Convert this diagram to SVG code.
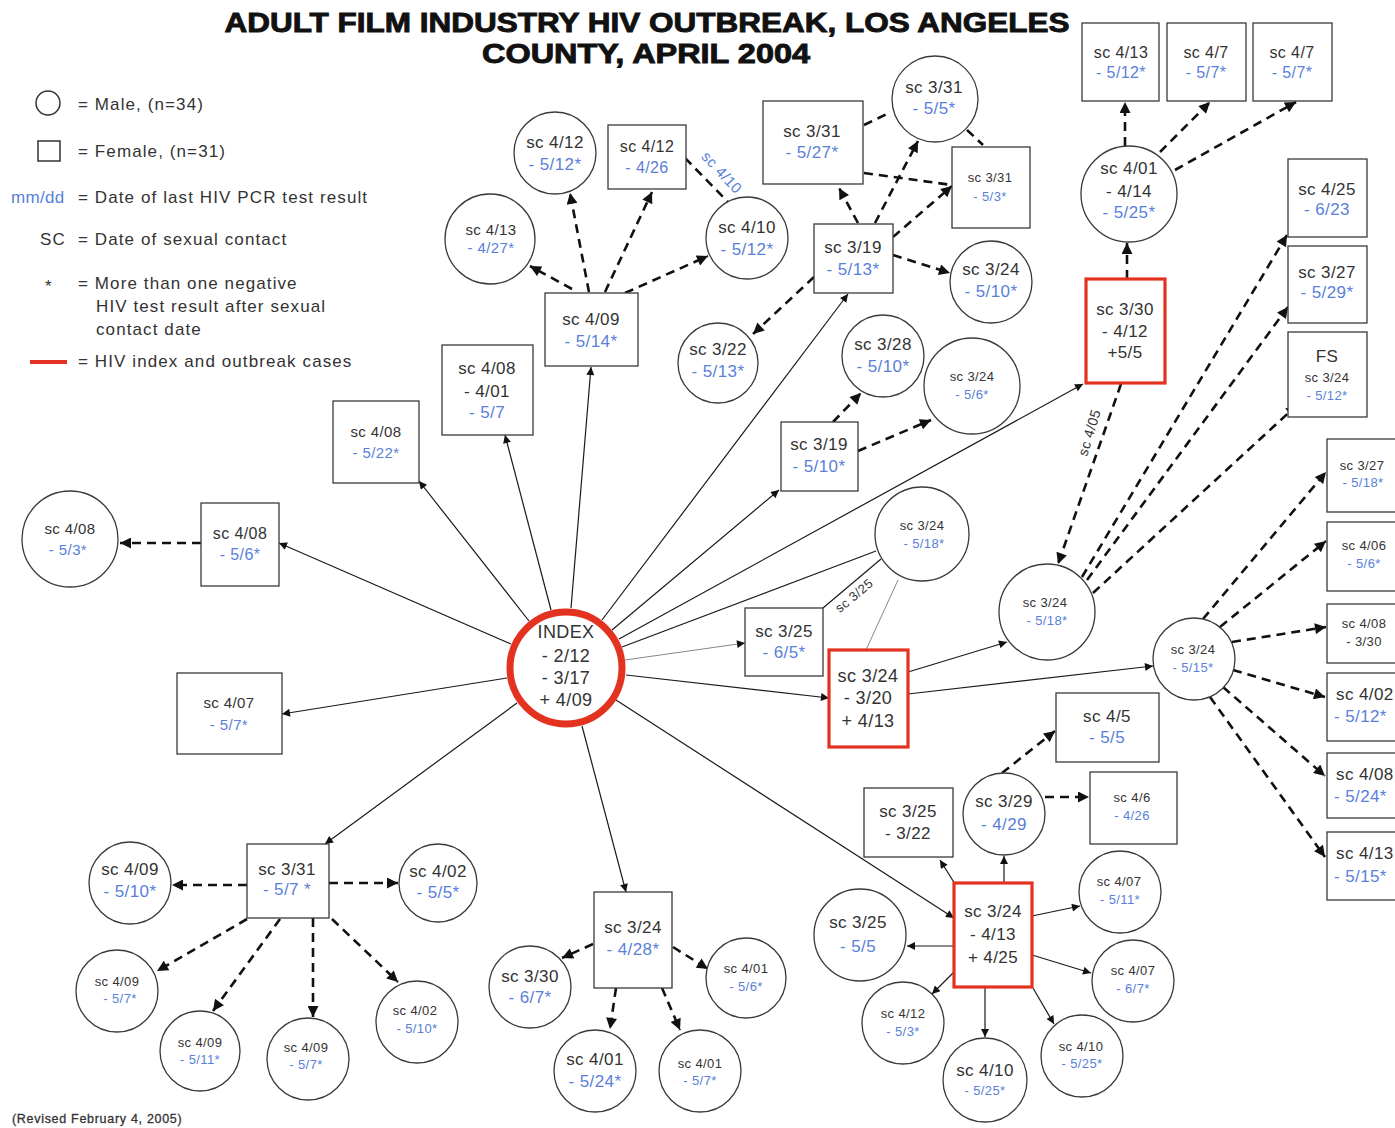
<svg xmlns="http://www.w3.org/2000/svg" width="1395" height="1128" viewBox="0 0 1395 1128">
<style>
.n{fill:#fff;stroke:#3a3a3a;stroke-width:1.3}
.r{fill:#fff;stroke:#e3321f;stroke-width:3.2}
.t{font-family:"Liberation Sans",Arial,sans-serif;fill:#333;text-anchor:middle;letter-spacing:0.4px}
.st{text-anchor:start}
.lg{font-family:"Liberation Sans",Arial,sans-serif;fill:#333;font-size:17px;letter-spacing:1.1px}
.b{fill:#5a7fd9}
.L{font-size:17px}
.M{font-size:15px}
.S{font-size:13px}
.s{stroke:#1a1a1a;stroke-width:1.2;fill:none}
.g{stroke:#888;stroke-width:1;fill:none}
.d{stroke:#111;stroke-width:2.6;stroke-dasharray:9 6;fill:none}
</style>
<defs>
<marker id="a" viewBox="0 0 10 10" refX="10" refY="5" markerWidth="11" markerHeight="8" markerUnits="userSpaceOnUse" orient="auto"><path d="M0,0 L10,5 L0,10 z" fill="#111"/></marker>
<marker id="ad" viewBox="0 0 10 10" refX="10" refY="5" markerWidth="13" markerHeight="11" markerUnits="userSpaceOnUse" orient="auto"><path d="M0,0 L10,5 L0,10 z" fill="#111"/></marker>
</defs>
<rect width="1395" height="1128" fill="#fff"/>

<g id="title" font-family="'Liberation Sans',Arial,sans-serif" font-weight="bold" fill="#111" stroke="#111" stroke-width="0.9" text-anchor="middle">
<text x="647" y="32" font-size="27" textLength="845" lengthAdjust="spacingAndGlyphs">ADULT FILM INDUSTRY HIV OUTBREAK, LOS ANGELES</text>
<text x="646" y="63" font-size="27" textLength="328" lengthAdjust="spacingAndGlyphs">COUNTY, APRIL 2004</text>
</g>

<g id="legend">
<circle cx="48" cy="103" r="12" fill="none" stroke="#333" stroke-width="1.5"/>
<text class="lg" x="78" y="110">= Male, (n=34)</text>
<rect x="38" y="141" width="22" height="20" fill="none" stroke="#333" stroke-width="1.5"/>
<text class="lg" x="78" y="157">= Female, (n=31)</text>
<text class="lg b" x="11" y="203" style="letter-spacing:0.3px">mm/dd</text>
<text class="lg" x="78" y="203">= Date of last HIV PCR test result</text>
<text class="lg" x="40" y="245">SC</text>
<text class="lg" x="78" y="245">= Date of sexual contact</text>
<text class="lg" x="45" y="292" font-size="13">*</text>
<text class="lg" x="78" y="289">= More than one negative</text>
<text class="lg" x="96" y="312">HIV test result after sexual</text>
<text class="lg" x="96" y="335">contact date</text>
<line x1="30" y1="362" x2="67" y2="362" stroke="#e3321f" stroke-width="4"/>
<text class="lg" x="78" y="367">= HIV index and outbreak cases</text>
</g>

<text x="12" y="1123" font-family="'Liberation Sans',Arial,sans-serif" font-size="12.5" letter-spacing="0.7" fill="#333" stroke="#333" stroke-width="0.3">(Revised February 4, 2005)</text>

<g id="connectors">
<g class="s" marker-end="url(#a)">
<line x1="511" y1="644" x2="279" y2="543"/>
<line x1="507" y1="678" x2="282" y2="714"/>
<line x1="529" y1="621" x2="419" y2="481"/>
<line x1="551" y1="610" x2="505" y2="435"/>
<line x1="571" y1="608" x2="591" y2="367"/>
<line x1="602" y1="620" x2="848" y2="294"/>
<line x1="612" y1="630" x2="779" y2="490"/>
<line x1="619" y1="639" x2="1083" y2="384"/>
<line x1="616" y1="700" x2="954" y2="918"/>
<line x1="582" y1="726" x2="626" y2="892"/>
<line x1="517" y1="703" x2="325" y2="844"/>
<line x1="626" y1="675" x2="829" y2="698"/>
<line x1="908" y1="672" x2="1007" y2="642"/>
<line x1="908" y1="694" x2="1153" y2="666"/>
<line x1="1004" y1="883" x2="1004" y2="856"/>
<line x1="955" y1="884" x2="940" y2="860"/>
<line x1="954" y1="946" x2="907" y2="946"/>
<line x1="954" y1="972" x2="932" y2="994"/>
<line x1="985" y1="987" x2="985" y2="1037"/>
<line x1="1033" y1="988" x2="1054" y2="1024"/>
<line x1="1032" y1="916" x2="1080" y2="906"/>
<line x1="1032" y1="955" x2="1091" y2="973"/>
</g>
<line class="g" x1="625" y1="660" x2="745" y2="643" marker-end="url(#a)"/>
<line class="s" x1="622" y1="647" x2="876" y2="551"/>
<line class="s" x1="823" y1="608" x2="881" y2="559"/>
<line class="g" x1="898" y1="580" x2="866" y2="650"/>
<g class="d" marker-end="url(#ad)">
<line x1="1127" y1="279" x2="1127" y2="243"/>
<line x1="1121" y1="384" x2="1058" y2="564"/>
<line x1="1125" y1="146" x2="1125" y2="102"/>
<line x1="1160" y1="152" x2="1210" y2="102"/>
<line x1="1175" y1="170" x2="1296" y2="102"/>
<line x1="1082" y1="577" x2="1287" y2="235"/>
<line x1="1087" y1="580" x2="1288" y2="307"/>
<line x1="1093" y1="593" x2="1297" y2="405"/>
<line x1="1203" y1="619" x2="1326" y2="472"/>
<line x1="1220" y1="627" x2="1326" y2="541"/>
<line x1="1232" y1="642" x2="1326" y2="627"/>
<line x1="1233" y1="670" x2="1325" y2="697"/>
<line x1="1223" y1="687" x2="1325" y2="776"/>
<line x1="1210" y1="697" x2="1325" y2="857"/>
<line x1="1002" y1="773" x2="1055" y2="731"/>
<line x1="1045" y1="797" x2="1089" y2="797"/>
<line x1="858" y1="223" x2="839" y2="188"/>
<line x1="875" y1="223" x2="918" y2="141"/>
<line x1="893" y1="237" x2="952" y2="186"/>
<line x1="893" y1="255" x2="950" y2="273"/>
<line x1="814" y1="277" x2="753" y2="334"/>
<line x1="572" y1="289" x2="530" y2="266"/>
<line x1="589" y1="292" x2="570" y2="193"/>
<line x1="605" y1="292" x2="652" y2="192"/>
<line x1="625" y1="293" x2="708" y2="256"/>
<line x1="833" y1="422" x2="861" y2="393"/>
<line x1="858" y1="451" x2="931" y2="420"/>
<line x1="201" y1="543" x2="120" y2="543"/>
<line x1="247" y1="885" x2="172" y2="885"/>
<line x1="329" y1="883" x2="398" y2="883"/>
<line x1="247" y1="919" x2="157" y2="971"/>
<line x1="280" y1="919" x2="213" y2="1011"/>
<line x1="313" y1="918" x2="313" y2="1017"/>
<line x1="332" y1="919" x2="398" y2="982"/>
<line x1="593" y1="944" x2="562" y2="958"/>
<line x1="673" y1="947" x2="708" y2="969"/>
<line x1="616" y1="988" x2="610" y2="1029"/>
<line x1="662" y1="988" x2="680" y2="1030"/>
</g>
<g class="d">
<line x1="864" y1="125" x2="891" y2="112"/>
<line x1="864" y1="173" x2="952" y2="185"/>
<line x1="967" y1="130" x2="983" y2="145"/>
<line x1="685" y1="158" x2="728" y2="202"/>
</g>
<text class="t b" font-size="15" transform="translate(718,176) rotate(47)">sc 4/10</text>
<text class="t S" transform="translate(857,599) rotate(-40)">sc 3/25</text>
<text class="t" font-size="14" transform="translate(1094,434) rotate(-73)">sc 4/05</text>
</g>

<g id="index"><circle cx="566" cy="668" r="56" fill="#fff" stroke="#e3321f" stroke-width="7"/><text class="t" font-size="18"><tspan x="566" y="638">INDEX</tspan><tspan x="566" y="662">- 2/12</tspan><tspan x="566" y="684">- 3/17</tspan><tspan x="566" y="706">+ 4/09</tspan></text></g>

<g id="n1"><circle class="n" cx="70" cy="539" r="48"/><text class="t M"><tspan x="70" y="534">sc 4/08</tspan><tspan class="b" x="68" y="555">-  5/3*</tspan></text></g>
<g id="n2"><rect class="n" x="201" y="503" width="78" height="83"/><text class="t" font-size="16"><tspan x="240" y="539">sc 4/08</tspan><tspan class="b" x="240" y="560">- 5/6*</tspan></text></g>
<g id="n3"><rect class="n" x="333" y="401" width="86" height="82"/><text class="t M"><tspan x="376" y="437">sc 4/08</tspan><tspan class="b" x="376" y="458">- 5/22*</tspan></text></g>
<g id="n4"><rect class="n" x="177" y="673" width="105" height="81"/><text class="t M"><tspan x="229" y="708">sc 4/07</tspan><tspan class="b" x="229" y="730">- 5/7*</tspan></text></g>
<g id="n5"><rect class="n" x="442" y="345" width="91" height="90"/><text class="t L"><tspan x="487" y="374">sc 4/08</tspan><tspan x="487" y="397">- 4/01</tspan><tspan class="b" x="487" y="418">- 5/7</tspan></text></g>
<g id="n6"><rect class="n" x="545" y="293" width="93" height="73"/><text class="t L"><tspan x="591" y="325">sc 4/09</tspan><tspan class="b" x="591" y="347">- 5/14*</tspan></text></g>
<g id="n7"><circle class="n" cx="490" cy="239" r="45"/><text class="t M"><tspan x="491" y="235">sc 4/13</tspan><tspan class="b" x="491" y="253">- 4/27*</tspan></text></g>
<g id="n8"><circle class="n" cx="555" cy="153" r="41"/><text class="t L"><tspan x="555" y="148">sc 4/12</tspan><tspan class="b" x="555" y="170">- 5/12*</tspan></text></g>
<g id="n9"><rect class="n" x="608" y="125" width="78" height="64"/><text class="t" font-size="16"><tspan x="647" y="152">sc 4/12</tspan><tspan class="b" x="647" y="173">- 4/26</tspan></text></g>
<g id="n10"><circle class="n" cx="747" cy="238" r="41"/><text class="t L"><tspan x="747" y="233">sc 4/10</tspan><tspan class="b" x="747" y="255">- 5/12*</tspan></text></g>
<g id="n11"><circle class="n" cx="718" cy="363" r="40"/><text class="t L"><tspan x="718" y="355">sc 3/22</tspan><tspan class="b" x="718" y="377">- 5/13*</tspan></text></g>
<g id="n12"><rect class="n" x="763" y="101" width="100" height="83"/><text class="t L"><tspan x="812" y="137">sc 3/31</tspan><tspan class="b" x="812" y="158">- 5/27*</tspan></text></g>
<g id="n13"><circle class="n" cx="935" cy="99" r="43"/><text class="t L"><tspan x="934" y="93">sc 3/31</tspan><tspan class="b" x="934" y="114">- 5/5*</tspan></text></g>
<g id="n14"><rect class="n" x="952" y="147" width="78" height="81"/><text class="t S"><tspan x="990" y="182">sc 3/31</tspan><tspan class="b" x="990" y="201">- 5/3*</tspan></text></g>
<g id="n15"><rect class="n" x="814" y="224" width="79" height="69"/><text class="t L"><tspan x="853" y="253">sc 3/19</tspan><tspan class="b" x="853" y="275">- 5/13*</tspan></text></g>
<g id="n16"><circle class="n" cx="991" cy="282" r="41"/><text class="t L"><tspan x="991" y="275">sc 3/24</tspan><tspan class="b" x="991" y="297">- 5/10*</tspan></text></g>
<g id="n17"><circle class="n" cx="883" cy="356" r="41"/><text class="t L"><tspan x="883" y="350">sc 3/28</tspan><tspan class="b" x="883" y="372">- 5/10*</tspan></text></g>
<g id="n18"><circle class="n" cx="972" cy="386" r="48"/><text class="t S"><tspan x="972" y="381">sc 3/24</tspan><tspan class="b" x="972" y="399">- 5/6*</tspan></text></g>
<g id="n19"><rect class="n" x="781" y="422" width="77" height="69"/><text class="t L"><tspan x="819" y="450">sc 3/19</tspan><tspan class="b" x="819" y="472">- 5/10*</tspan></text></g>
<g id="n20"><rect class="n" x="1082" y="23" width="77" height="78"/><text class="t" font-size="16"><tspan x="1121" y="58">sc 4/13</tspan><tspan class="b" x="1121" y="78">- 5/12*</tspan></text></g>
<g id="n21"><rect class="n" x="1167" y="23" width="79" height="78"/><text class="t" font-size="16"><tspan x="1206" y="58">sc 4/7</tspan><tspan class="b" x="1206" y="78">- 5/7*</tspan></text></g>
<g id="n22"><rect class="n" x="1253" y="23" width="79" height="78"/><text class="t" font-size="16"><tspan x="1292" y="58">sc 4/7</tspan><tspan class="b" x="1292" y="78">- 5/7*</tspan></text></g>
<g id="n23"><circle class="n" cx="1129" cy="194" r="48"/><text class="t L"><tspan x="1129" y="174">sc 4/01</tspan><tspan x="1129" y="197">- 4/14</tspan><tspan class="b" x="1129" y="218">- 5/25*</tspan></text></g>
<g id="n24"><rect class="r" x="1086" y="279" width="79" height="104"/><text class="t L"><tspan x="1125" y="315">sc 3/30</tspan><tspan x="1125" y="337">- 4/12</tspan><tspan x="1125" y="358">+5/5</tspan></text></g>
<g id="n25"><rect class="n" x="1288" y="159" width="79" height="78"/><text class="t L"><tspan x="1327" y="195">sc 4/25</tspan><tspan class="b" x="1327" y="215">- 6/23</tspan></text></g>
<g id="n26"><rect class="n" x="1288" y="246" width="79" height="77"/><text class="t L"><tspan x="1327" y="278">sc 3/27</tspan><tspan class="b" x="1327" y="298">- 5/29*</tspan></text></g>
<g id="n27"><rect class="n" x="1288" y="332" width="79" height="85"/><text class="t"><tspan class="L" x="1327" y="362">FS</tspan><tspan class="S" x="1327" y="382">sc 3/24</tspan><tspan class="S b" x="1327" y="400">- 5/12*</tspan></text></g>
<g id="n28"><circle class="n" cx="922" cy="534" r="47"/><text class="t S"><tspan x="922" y="530">sc 3/24</tspan><tspan class="b" x="924" y="548">- 5/18*</tspan></text></g>
<g id="n29"><circle class="n" cx="1047" cy="612" r="48"/><text class="t S"><tspan x="1045" y="607">sc 3/24</tspan><tspan class="b" x="1047" y="625">- 5/18*</tspan></text></g>
<g id="n30"><rect class="n" x="745" y="608" width="78" height="68"/><text class="t L"><tspan x="784" y="637">sc 3/25</tspan><tspan class="b" x="784" y="658">- 6/5*</tspan></text></g>
<g id="n31"><rect class="r" x="829" y="650" width="79" height="97"/><text class="t" font-size="18"><tspan x="868" y="682">sc 3/24</tspan><tspan x="868" y="704">- 3/20</tspan><tspan x="868" y="727">+ 4/13</tspan></text></g>
<g id="n32"><circle class="n" cx="1194" cy="659" r="41"/><text class="t S"><tspan x="1193" y="654">sc 3/24</tspan><tspan class="b" x="1193" y="672">- 5/15*</tspan></text></g>
<g id="n33"><rect class="n" x="1327" y="439" width="80" height="73"/><text class="t S"><tspan x="1362" y="470">sc 3/27</tspan><tspan class="b" x="1363" y="487">- 5/18*</tspan></text></g>
<g id="n34"><rect class="n" x="1327" y="522" width="80" height="69"/><text class="t S"><tspan x="1364" y="550">sc 4/06</tspan><tspan class="b" x="1364" y="568">- 5/6*</tspan></text></g>
<g id="n35"><rect class="n" x="1327" y="604" width="80" height="59"/><text class="t S"><tspan x="1364" y="628">sc 4/08</tspan><tspan x="1364" y="646">- 3/30</tspan></text></g>
<g id="n36"><rect class="n" x="1327" y="673" width="80" height="68"/><text class="t L st"><tspan x="1336" y="700">sc 4/02</tspan><tspan class="b" x="1334" y="722">- 5/12*</tspan></text></g>
<g id="n37"><rect class="n" x="1327" y="753" width="80" height="65"/><text class="t L st"><tspan x="1336" y="780">sc 4/08</tspan><tspan class="b" x="1334" y="802">- 5/24*</tspan></text></g>
<g id="n38"><rect class="n" x="1327" y="832" width="80" height="68"/><text class="t L st"><tspan x="1336" y="859">sc 4/13</tspan><tspan class="b" x="1334" y="882">- 5/15*</tspan></text></g>
<g id="n39"><rect class="n" x="1056" y="693" width="103" height="69"/><text class="t L"><tspan x="1107" y="722">sc 4/5</tspan><tspan class="b" x="1107" y="743">- 5/5</tspan></text></g>
<g id="n40"><rect class="n" x="864" y="788" width="89" height="69" stroke="#222" stroke-width="2"/><text class="t L"><tspan x="908" y="817">sc 3/25</tspan><tspan x="908" y="839">- 3/22</tspan></text></g>
<g id="n41"><circle class="n" cx="1004" cy="814" r="41"/><text class="t L"><tspan x="1004" y="807">sc 3/29</tspan><tspan class="b" x="1004" y="830">- 4/29</tspan></text></g>
<g id="n42"><rect class="n" x="1090" y="772" width="87" height="72"/><text class="t S"><tspan x="1132" y="802">sc 4/6</tspan><tspan class="b" x="1132" y="820">- 4/26</tspan></text></g>
<g id="n43"><rect class="r" x="954" y="883" width="78" height="104"/><text class="t L"><tspan x="993" y="917">sc 3/24</tspan><tspan x="993" y="940">- 4/13</tspan><tspan x="993" y="963">+ 4/25</tspan></text></g>
<g id="n44"><circle class="n" cx="860" cy="935" r="46"/><text class="t L"><tspan x="858" y="928">sc 3/25</tspan><tspan class="b" x="858" y="952">- 5/5</tspan></text></g>
<g id="n45"><circle class="n" cx="1120" cy="892" r="41"/><text class="t S"><tspan x="1119" y="886">sc 4/07</tspan><tspan class="b" x="1120" y="904">- 5/11*</tspan></text></g>
<g id="n46"><circle class="n" cx="1133" cy="981" r="41"/><text class="t S"><tspan x="1133" y="975">sc 4/07</tspan><tspan class="b" x="1133" y="993">- 6/7*</tspan></text></g>
<g id="n47"><circle class="n" cx="903" cy="1023" r="41"/><text class="t S"><tspan x="903" y="1018">sc 4/12</tspan><tspan class="b" x="903" y="1036">- 5/3*</tspan></text></g>
<g id="n48"><circle class="n" cx="985" cy="1080" r="42"/><text class="t"><tspan class="L" x="985" y="1076">sc 4/10</tspan><tspan class="S b" x="985" y="1095">- 5/25*</tspan></text></g>
<g id="n49"><circle class="n" cx="1082" cy="1056" r="41"/><text class="t S"><tspan x="1081" y="1051">sc 4/10</tspan><tspan class="b" x="1082" y="1068">- 5/25*</tspan></text></g>
<g id="n50"><rect class="n" x="247" y="844" width="82" height="74"/><text class="t L"><tspan x="287" y="875">sc 3/31</tspan><tspan class="b" x="287" y="895">- 5/7 *</tspan></text></g>
<g id="n51"><circle class="n" cx="130" cy="883" r="41"/><text class="t L"><tspan x="130" y="875">sc 4/09</tspan><tspan class="b" x="130" y="897">- 5/10*</tspan></text></g>
<g id="n52"><circle class="n" cx="438" cy="883" r="39"/><text class="t L"><tspan x="438" y="877">sc 4/02</tspan><tspan class="b" x="438" y="898">- 5/5*</tspan></text></g>
<g id="n53"><circle class="n" cx="117" cy="991" r="41"/><text class="t S"><tspan x="117" y="986">sc 4/09</tspan><tspan class="b" x="120" y="1003">- 5/7*</tspan></text></g>
<g id="n54"><circle class="n" cx="200" cy="1051" r="40"/><text class="t S"><tspan x="200" y="1047">sc 4/09</tspan><tspan class="b" x="200" y="1064">- 5/11*</tspan></text></g>
<g id="n55"><circle class="n" cx="308" cy="1059" r="41"/><text class="t S"><tspan x="306" y="1052">sc 4/09</tspan><tspan class="b" x="306" y="1069">- 5/7*</tspan></text></g>
<g id="n56"><circle class="n" cx="417" cy="1022" r="41"/><text class="t S"><tspan x="415" y="1015">sc 4/02</tspan><tspan class="b" x="417" y="1033">- 5/10*</tspan></text></g>
<g id="n57"><rect class="n" x="594" y="892" width="78" height="96"/><text class="t L"><tspan x="633" y="933">sc 3/24</tspan><tspan class="b" x="633" y="955">- 4/28*</tspan></text></g>
<g id="n58"><circle class="n" cx="530" cy="987" r="41"/><text class="t L"><tspan x="530" y="982">sc 3/30</tspan><tspan class="b" x="530" y="1003">- 6/7*</tspan></text></g>
<g id="n59"><circle class="n" cx="746" cy="978" r="40"/><text class="t S"><tspan x="746" y="973">sc 4/01</tspan><tspan class="b" x="746" y="991">- 5/6*</tspan></text></g>
<g id="n60"><circle class="n" cx="595" cy="1071" r="41"/><text class="t L"><tspan x="595" y="1065">sc 4/01</tspan><tspan class="b" x="595" y="1087">- 5/24*</tspan></text></g>
<g id="n61"><circle class="n" cx="700" cy="1071" r="41"/><text class="t S"><tspan x="700" y="1068">sc 4/01</tspan><tspan class="b" x="700" y="1085">- 5/7*</tspan></text></g>
</svg>
